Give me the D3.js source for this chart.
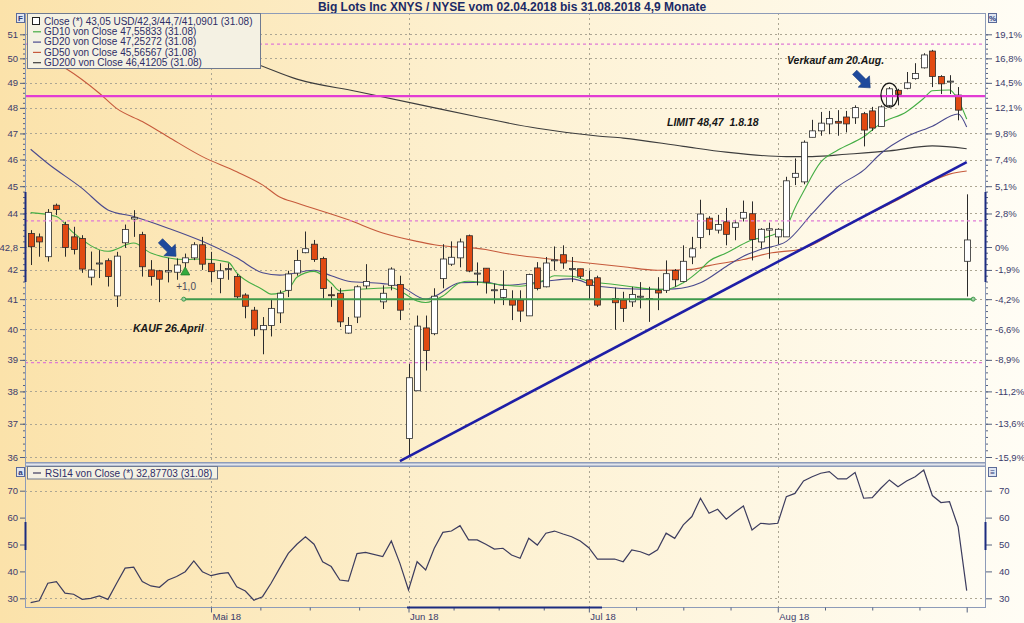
<!DOCTYPE html>
<html lang="de">
<head>
<meta charset="utf-8">
<title>Big Lots Inc XNYS / NYSE</title>
<script src="https://cdn.jsdelivr.net/npm/d3@7/dist/d3.min.js"></script>
<style>
  html, body { margin: 0; padding: 0; background: #fdf0cf; }
  svg { display: block; font-family: "Liberation Sans", Arial, sans-serif; }
</style>
</head>
<body>
<svg id="chart" width="1024" height="623"></svg>
<script>
// ---------- data (2018, daily) ----------
const tradingDays = [
  "04-02","04-03","04-04","04-05","04-06","04-09","04-10","04-11","04-12","04-13","04-16","04-17","04-18","04-19","04-20","04-23","04-24","04-25","04-26","04-27","04-30",
  "05-01","05-02","05-03","05-04","05-07","05-08","05-09","05-10","05-11","05-14","05-15","05-16","05-17","05-18","05-21","05-22","05-23","05-24","05-25","05-29","05-30","05-31",
  "06-01","06-04","06-05","06-06","06-07","06-08","06-11","06-12","06-13","06-14","06-15","06-18","06-19","06-20","06-21","06-22","06-25","06-26","06-27","06-28","06-29",
  "07-02","07-03","07-05","07-06","07-09","07-10","07-11","07-12","07-13","07-16","07-17","07-18","07-19","07-20","07-23","07-24","07-25","07-26","07-27","07-30","07-31",
  "08-01","08-02","08-03","08-06","08-07","08-08","08-09","08-10","08-13","08-14","08-15","08-16","08-17","08-20","08-21","08-22","08-23","08-24","08-27","08-28","08-29","08-30","08-31"
];
const openP = [
  43.28,43.16,42.46,44.30,43.60,43.16,43.10,41.75,42.22,42.32,41.11,42.95,43.80,43.24,42.00,41.97,41.93,41.92,42.25,42.42,42.88,
  42.23,41.71,42.02,41.77,41.14,40.63,39.98,40.12,40.54,41.30,41.89,42.60,42.90,42.40,41.15,41.20,39.87,40.40,41.45,40.91,41.47,41.50,
  36.55,38.02,40.04,39.85,41.70,42.20,42.42,43.20,41.87,42.06,41.30,41.06,40.98,40.97,40.44,42.07,41.42,42.32,42.53,42.04,42.04,
  41.66,41.73,41.02,40.97,40.91,41.08,41.00,41.30,41.30,41.98,41.60,42.45,43.14,43.83,43.40,43.70,43.50,43.83,43.99,42.98,43.40,
  43.16,43.16,45.33,45.16,46.85,47.10,47.37,47.47,47.64,47.61,47.77,47.88,47.27,48.10,48.70,48.78,49.17,49.61,50.30,49.26,49.05,48.51,42.30
];
const highP = [
  43.40,43.28,44.16,44.36,43.70,43.52,43.22,42.64,42.69,42.40,42.63,43.60,44.12,43.34,42.34,42.00,42.42,42.40,42.57,42.97,43.16,
  42.63,42.23,42.23,41.86,41.20,40.74,40.40,40.97,41.30,41.97,42.70,43.35,43.05,42.46,41.42,41.37,40.40,41.47,42.20,41.47,42.09,41.80,
  38.87,40.45,40.45,41.37,42.90,43.00,43.10,43.24,42.26,42.06,41.53,41.98,41.30,41.30,41.87,42.27,42.45,42.82,42.86,42.45,42.04,
  41.98,41.80,41.39,41.25,41.42,41.58,41.42,41.75,42.33,42.03,42.86,43.16,44.50,43.90,43.95,44.20,43.77,44.47,44.44,43.47,43.67,
  43.47,45.35,46.04,46.73,47.53,47.84,47.88,47.91,47.88,48.10,47.84,48.04,48.10,48.83,48.76,49.44,49.80,50.21,50.35,49.31,49.31,48.83,44.70
];
const lowP = [
  42.17,42.46,42.29,43.94,42.46,42.54,41.90,41.47,41.72,41.43,40.74,42.77,43.16,41.77,41.46,40.90,41.57,41.66,42.00,42.34,42.00,
  41.57,41.20,41.66,41.02,40.36,39.77,39.18,39.76,40.20,41.07,41.80,42.58,42.28,41.02,40.74,40.07,39.85,40.20,41.35,40.67,41.30,40.30,
  36.00,38.02,38.66,39.80,41.37,42.14,42.09,41.92,41.47,41.19,40.85,40.80,40.30,40.24,40.44,41.30,41.40,41.98,42.04,41.58,41.70,
  40.97,40.74,39.98,40.24,40.74,40.69,40.24,40.63,41.21,41.42,41.58,42.20,42.74,43.22,43.28,42.86,43.04,43.71,42.33,42.74,42.39,
  42.90,43.16,45.04,45.07,46.85,46.91,46.97,46.91,47.04,47.37,46.50,47.10,47.27,48.04,48.10,48.74,49.13,49.58,48.83,48.55,48.55,47.51,41.0901
];
const closeP = [
  42.81,42.98,44.04,44.14,42.78,42.71,42.03,42.00,42.24,41.77,42.48,43.42,43.86,42.11,41.77,41.68,41.98,42.17,42.42,42.88,42.20,
  41.94,41.97,42.05,41.08,40.76,40.00,40.12,40.69,41.20,41.86,42.33,42.74,42.36,41.36,41.14,40.24,40.12,41.42,41.60,41.20,42.03,40.63,
  38.43,40.10,39.30,41.10,42.38,42.44,42.98,41.96,41.89,41.58,41.32,41.33,40.80,40.60,41.84,41.36,42.24,42.35,42.24,42.05,41.78,
  41.47,40.80,40.88,40.69,41.16,41.10,41.02,41.21,41.87,41.66,42.30,42.74,43.98,43.43,43.60,43.25,43.66,44.04,43.07,43.43,43.45,
  43.43,45.20,45.48,46.66,47.10,47.40,47.58,47.40,47.37,48.01,47.13,47.21,48.04,48.76,48.54,49.00,49.38,50.14,49.26,48.96,49.07,47.91,43.05
];
const rsi14 = [
  28.4,29.1,35.6,36.2,31.9,31.5,29.6,30.0,30.9,29.6,35.5,41.2,41.6,36.2,34.6,34.1,36.8,38.1,39.9,43.9,39.9,
  38.4,39.2,39.5,34.3,32.7,29.3,30.6,35.6,41.2,46.7,50.1,52.9,50.1,43.6,41.8,36.8,36.4,46.6,47.1,45.5,51.3,43.0,
  33.1,43.6,40.5,48.6,54.5,55.0,57.0,51.7,51.7,50.1,48.3,48.6,46.1,44.9,52.3,49.8,54.2,55.0,53.9,52.9,51.3,
  48.8,44.6,44.6,43.6,48.0,47.3,46.1,48.0,54.2,52.3,57.3,60.4,67.2,61.6,63.1,59.4,62.0,64.3,55.4,57.9,57.6,
  57.9,67.8,69.0,73.6,75.2,76.5,77.1,74.4,74.4,76.8,67.2,67.4,70.9,74.0,71.5,73.6,75.2,77.7,68.2,65.6,65.9,56.6,32.87703
];

// moving averages (sampled days)
const gd10 = [
  ["04-02",44.03],["04-05",43.89],["04-09",43.30],["04-13",42.65],["04-18",42.94],["04-20",42.59],["04-26",42.36],["04-30",42.38],
  ["05-03",42.27],["05-04",41.90],["05-09",41.33],["05-10",41.17],["05-14",41.33],["05-15",41.75],["05-17",41.95],["05-21",41.55],
  ["05-22",41.28],["05-24",41.33],["05-30",41.39],["05-31",41.28],["06-04",40.94],["06-05",40.89],["06-07",41.11],["06-11",41.56],
  ["06-12",41.61],["06-14",41.55],["06-20",41.44],["06-25",41.67],["06-26",41.80],["06-28",41.78],["07-02",41.61],["07-05",41.50],
  ["07-09",41.42],["07-11",41.35],["07-13",41.33],["07-17",41.56],["07-19",42.01],["07-20",42.30],["07-24",42.59],["07-25",42.75],
  ["07-27",43.06],["07-31",43.18],["08-02",43.53],["08-03",44.20],["08-06",44.80],["08-08",45.90],["08-10",46.36],["08-15",46.87],
  ["08-17",47.39],["08-22",47.85],["08-24",48.38],["08-27",48.68],["08-29",48.71],["08-30",48.31],["08-31",47.55833]
];
const gd20 = [
  ["04-02",46.39],["04-04",45.85],["04-10",44.92],["04-13",44.13],["04-18",43.89],["04-24",43.47],["04-30",43.00],["05-04",42.42],
  ["05-09",41.90],["05-11",41.82],["05-17",41.99],["05-21",41.80],["05-23",41.61],["05-29",41.53],["05-31",41.44],["06-05",41.00],
  ["06-06",41.09],["06-11",41.56],["06-14",41.58],["06-18",41.47],["06-25",41.61],["06-28",41.69],["07-03",41.44],["07-11",41.33],
  ["07-16",41.35],["07-19",41.56],["07-24",42.12],["07-26",42.48],["07-30",42.71],["08-02",43.00],["08-07",43.99],["08-10",44.98],
  ["08-15",45.60],["08-17",46.23],["08-22",46.87],["08-27",47.28],["08-30",47.76],["08-31",47.25272]
];
const gd50 = [
  ["04-02",50.30],["04-06",49.60],["04-12",48.58],["04-16",47.98],["04-19",47.46],["04-24",46.87],["04-30",46.11],["05-04",45.54],
  ["05-09",45.05],["05-11",44.60],["05-15",44.38],["05-23",43.77],["05-29",43.30],["06-04",43.00],["06-06",42.88],["06-14",42.71],
  ["06-18",42.59],["06-20",42.50],["06-28",42.30],["07-06",42.11],["07-12",41.99],["07-18",42.02],["07-20",42.15],["07-26",42.36],
  ["07-31",42.58],["08-06",42.75],["08-13",43.56],["08-21",44.50],["08-29",45.45],["08-31",45.56567]
];
const gd200 = [
  ["04-02",52.40],["04-19",51.00],["05-08",49.80],["05-15",49.15],["05-24",48.65],["06-04",48.15],["06-13",47.65],["06-22",47.20],
  ["07-03",46.90],["07-06",46.82],["07-17",46.50],["07-24",46.28],["08-02",46.11],["08-07",46.11],["08-13",46.20],["08-20",46.33],
  ["08-27",46.52],["08-31",46.41205]
];

const priceTicks = [51, 50, 49, 48, 47, 46, 45, 44, 42.8, 42, 41, 40, 39, 38, 37, 36];
const pctLabels  = ["19,1%","16,8%","14,5%","12,1%","9,8%","7,4%","5,1%","2,8%","0%","-1,9%","-4,2%","-6,6%","-8,9%","-11,2%","-13,6%","-15,9%"];
const rsiTicks = [30, 40, 50, 60, 70];
const rsiGrid = [30, 70];
const monthStarts = ["05-01", "06-01", "07-02", "08-01"];
const monthLabels = ["Mai 18", "Jun 18", "Jul 18", "Aug 18"];
const rangeEnd = "08-31";

const limitLevel = 48.47;           // Verkaufslimit
const stopLevel = 41.0;             // Absicherung ab Kauf
const dottedLevels = [50.59, 43.73, 38.91];
const buyDay = "04-26";
const sellDay = "08-20";
const trendFrom = ["05-31", 35.88];
const trendTo = ["08-31", 45.90];

// ---------- helpers ----------
const fmt = v => String(v).replace(".", ",");
const T0 = Date.UTC(2018, 3, 2);
const slotOf = s => {
  const n = Math.round((Date.UTC(2018, +s.slice(0, 2) - 1, +s.slice(3)) - T0) / 864e5);
  return n - 2 * Math.floor(n / 7);     // weekday index since 02.04.
};

// ---------- layout ----------
const W = 1024, H = 623;
const L = 25, R = 985;
const pTop = 13, pBot = 462;
const rTop = 466, rBot = 607;

const x = d3.scaleLinear().domain([0, 109]).range([30.65, 966.7]);
const y = d3.scaleLog().domain([36, 51]).range([457, 34.3]);
const yR = d3.scaleLinear().domain([30, 70]).range([598.3, 490.7]);

const svg = d3.select("#chart");
const defs = svg.append("defs");
const grad = defs.append("linearGradient").attr("id", "bg").attr("x1", 0).attr("x2", 1).attr("y1", 0).attr("y2", 0);
grad.append("stop").attr("offset", "0%").attr("stop-color", "#fbe2aa");
grad.append("stop").attr("offset", "45%").attr("stop-color", "#fdf0cf");
grad.append("stop").attr("offset", "100%").attr("stop-color", "#fffdf5");
defs.append("clipPath").attr("id", "clipP").append("rect").attr("x", L).attr("y", pTop).attr("width", R - L).attr("height", pBot - pTop);
defs.append("clipPath").attr("id", "clipR").append("rect").attr("x", L).attr("y", rTop).attr("width", R - L).attr("height", rBot - rTop);

svg.append("rect").attr("width", W).attr("height", H).attr("fill", "url(#bg)");

// title
svg.append("text").attr("x", 512).attr("y", 10.5).attr("text-anchor", "middle")
  .attr("font-weight", "bold").attr("font-size", "12px").attr("fill", "#1b2a66")
  .text("Big Lots Inc XNYS / NYSE vom 02.04.2018 bis 31.08.2018 4,9 Monate");

// ---------- grids ----------
const gridCol = "#aca693";
const grid = svg.append("g");
grid.selectAll("line.hp").data(priceTicks).join("line")
  .attr("x1", L).attr("x2", R).attr("y1", d => Math.round(y(d)) + 0.5).attr("y2", d => Math.round(y(d)) + 0.5)
  .attr("stroke", gridCol).attr("stroke-dasharray", "2,3");
grid.selectAll("line.hr").data(rsiGrid).join("line")
  .attr("x1", L).attr("x2", R).attr("y1", d => Math.round(yR(d)) + 0.5).attr("y2", d => Math.round(yR(d)) + 0.5)
  .attr("stroke", gridCol).attr("stroke-dasharray", "2,3");
const monthSlots = monthStarts.map(slotOf);
[[pTop, pBot], [rTop, rBot]].forEach(([a, b]) => {
  grid.selectAll(null).data(monthSlots).join("line")
    .attr("x1", d => Math.round(x(d)) + 0.5).attr("x2", d => Math.round(x(d)) + 0.5)
    .attr("y1", a).attr("y2", b).attr("stroke", gridCol).attr("stroke-dasharray", "2,3");
});

// ---------- price panel ----------
const pg = svg.append("g").attr("clip-path", "url(#clipP)");
const maLine = d3.line().curve(d3.curveMonotoneX).x(d => x(slotOf(d[0]))).y(d => y(d[1]));
[[gd200, "#3d3d3d"], [gd50, "#c65a3c"], [gd20, "#4a4a8e"], [gd10, "#44ad44"]].forEach(([s, c]) => {
  pg.append("path").attr("d", maLine(s)).attr("fill", "none").attr("stroke", c).attr("stroke-width", 1.1);
});

const candles = tradingDays.map((d, i) => ({ day: d, s: slotOf(d), o: openP[i], h: highP[i], l: lowP[i], c: closeP[i] }));
const cx = d => Math.round(x(d.s)) + 0.5;
pg.selectAll("line.wick").data(candles).join("line")
  .attr("x1", cx).attr("x2", cx).attr("y1", d => y(d.h)).attr("y2", d => y(d.l))
  .attr("stroke", "#2b2b2b").attr("stroke-width", 1);
pg.selectAll("rect.body").data(candles).join("rect")
  .attr("x", d => cx(d) - 3).attr("width", 6)
  .attr("y", d => Math.min(y(d.o), y(d.c)))
  .attr("height", d => Math.max(1, Math.abs(y(d.o) - y(d.c))))
  .attr("fill", d => d.c >= d.o ? "#ffffff" : "#e14a12")
  .attr("stroke", "#2b2b2b").attr("stroke-width", 0.8);

// levels
pg.selectAll("line.dot").data(dottedLevels).join("line")
  .attr("x1", L).attr("x2", R).attr("y1", d => y(d)).attr("y2", d => y(d))
  .attr("stroke", "#e07ad6").attr("stroke-width", 1.2).attr("stroke-dasharray", "3,3");
pg.append("line").attr("x1", L).attr("x2", R).attr("y1", y(limitLevel)).attr("y2", y(limitLevel))
  .attr("stroke", "#e23cd4").attr("stroke-width", 2.2);

const buy = candles.find(d => d.day === buyDay);
const sell = candles.find(d => d.day === sellDay);
const last = candles[candles.length - 1];
const stopX0 = x(buy.s) - 1.5, stopX1 = x(last.s) + 6.5;
pg.append("line").attr("x1", stopX0).attr("x2", stopX1).attr("y1", y(stopLevel)).attr("y2", y(stopLevel))
  .attr("stroke", "#3f9a4c").attr("stroke-width", 2);
pg.selectAll("circle.stop").data([stopX0, stopX1]).join("circle")
  .attr("cx", d => d).attr("cy", y(stopLevel)).attr("r", 2).attr("fill", "#9fd0a2").attr("stroke", "#3f9a4c");

// trend line
pg.append("line")
  .attr("x1", x(slotOf(trendFrom[0]))).attr("y1", y(trendFrom[1]))
  .attr("x2", x(slotOf(trendTo[0]))).attr("y2", y(trendTo[1]))
  .attr("stroke", "#1e1ea6").attr("stroke-width", 2.6);

// buy marker
const bx = x(buy.s), by = y(buy.l);
pg.append("path").attr("d", `M${bx},${by - 3} L${bx + 4.5},${by + 5} L${bx - 4.5},${by + 5} Z`)
  .attr("fill", "#33aa3d").attr("stroke", "#1d7a2a").attr("stroke-width", 0.8);
svg.append("text").attr("x", bx - 9).attr("y", by + 20).attr("font-size", "10px").attr("fill", "#4a4a5a").text("+1,0");

// arrows
const arrowPath = "M-11,-3 L2,-3 L2,-8 L11,0 L2,8 L2,3 L-11,3 Z";
const arrow = (ax, ay) => svg.append("path").attr("d", arrowPath)
  .attr("transform", `translate(${ax},${ay}) rotate(45)`).attr("fill", "#1f4a9c").attr("stroke", "#163a80").attr("stroke-width", 0.6);
arrow(bx - 17, y(buy.h) - 5);
arrow(x(sell.s) - 27, y(sell.h) - 7);

// circle around the sell candle
svg.append("ellipse").attr("cx", x(sell.s)).attr("cy", (y(sell.o) + y(sell.c)) / 2 - 2)
  .attr("rx", 8.5).attr("ry", 12).attr("fill", "none").attr("stroke", "#111").attr("stroke-width", 1.2);

// notes
const note = (tx, ty, t) => svg.append("text").attr("x", tx).attr("y", ty)
  .attr("font-size", "10.5px").attr("font-weight", "bold").attr("font-style", "italic")
  .attr("fill", "#161616").style("white-space", "pre").text(t);
note(787, 64, "Verkauf am 20.Aug.");
note(667, 126, `LIMIT ${fmt(limitLevel)}  1.8.18`);
note(133, 332, "KAUF 26.April");

// ---------- RSI panel ----------
const rg = svg.append("g").attr("clip-path", "url(#clipR)");
const rsiLine = d3.line().x((d, i) => x(candles[i].s)).y(d => yR(d));
rg.append("path").attr("d", rsiLine(rsi14)).attr("fill", "none").attr("stroke", "#3c3c5e").attr("stroke-width", 1.2);

// ---------- frames ----------
const frameCol = "#8d9bb8";
svg.append("rect").attr("x", L + 0.5).attr("y", pTop + 0.5).attr("width", R - L).attr("height", pBot - pTop)
  .attr("fill", "none").attr("stroke", frameCol);
svg.append("rect").attr("x", L + 0.5).attr("y", pBot + 1).attr("width", R - L).attr("height", rTop - pBot - 1)
  .attr("fill", "#e2e5ec").attr("stroke", frameCol);
svg.append("rect").attr("x", L + 0.5).attr("y", rTop + 0.5).attr("width", R - L).attr("height", rBot - rTop)
  .attr("fill", "none").attr("stroke", frameCol);

// ---------- axes ----------
const styleAxis = (g, size) => {
  g.select(".domain").remove();
  g.selectAll(".tick line").attr("stroke", "#56627f");
  g.selectAll(".tick text").attr("fill", "#3b3b6b").attr("font-size", size || "9.5px")
    .attr("font-family", "'Liberation Sans', Arial, sans-serif");
};
const minorPrice = d3.range(36, 51.01, 0.2);
svg.append("g").attr("transform", `translate(${L},0)`)
  .call(d3.axisLeft(y).tickValues(minorPrice).tickSize(2).tickFormat("")).call(styleAxis);
svg.append("g").attr("transform", `translate(${L},0)`)
  .call(d3.axisLeft(y).tickValues(priceTicks).tickFormat(fmt).tickSize(5).tickPadding(2)).call(styleAxis);
svg.append("g").attr("transform", `translate(${R + 1},0)`)
  .call(d3.axisRight(y).tickValues(minorPrice).tickSize(2).tickFormat("")).call(styleAxis);
svg.append("g").attr("transform", `translate(${R + 1},0)`)
  .call(d3.axisRight(y).tickValues(priceTicks).tickFormat((d, i) => pctLabels[i]).tickSize(6).tickPadding(3)).call(styleAxis);

svg.append("g").attr("transform", `translate(${L},0)`)
  .call(d3.axisLeft(yR).tickValues(rsiTicks).tickSize(5).tickPadding(2)).call(styleAxis);
svg.append("g").attr("transform", `translate(${R + 1},0)`)
  .call(d3.axisRight(yR).tickValues(rsiTicks).tickSize(6).tickPadding(7)).call(styleAxis);

const majorX = monthSlots.concat([slotOf(rangeEnd)]);
const minorX = [];
for (let i = 0; i < majorX.length - 1; i++) {
  for (let k = 1; k < 4; k++) minorX.push(majorX[i] + (majorX[i + 1] - majorX[i]) * k / 4);
}
svg.append("g").attr("transform", `translate(0,${rBot + 0.5})`)
  .call(d3.axisBottom(x).tickValues(minorX).tickSize(3).tickFormat("")).call(styleAxis);
const xAx = svg.append("g").attr("transform", `translate(0,${rBot + 0.5})`)
  .call(d3.axisBottom(x).tickValues(majorX).tickSize(5).tickPadding(1)
    .tickFormat((d, i) => monthLabels[i] || "")).call(g => styleAxis(g, "9.5px"));
xAx.selectAll(".tick text").attr("text-anchor", "start").attr("dx", 1);

// range markers on the axes
const mark = "#1c2c80";
[[L + 0.5, 192, 282], [R + 0.5, 192, 282], [L + 0.5, 522, 550], [R + 0.5, 522, 550]].forEach(([mx, a, b]) => {
  svg.append("line").attr("x1", mx).attr("x2", mx).attr("y1", a).attr("y2", b).attr("stroke", mark).attr("stroke-width", 2);
});
svg.append("line").attr("x1", 407).attr("x2", 602).attr("y1", rBot + 0.5).attr("y2", rBot + 0.5).attr("stroke", mark).attr("stroke-width", 2);

// ---------- legends ----------
const lg = svg.append("g");
lg.append("rect").attr("x", 27.5).attr("y", 13.5).attr("width", 233).attr("height", 55)
  .attr("fill", "#f4f1e3").attr("stroke", "#6f7a90");
const lgRows = [
  { kind: "box", c: "#222", t: `Close (*) ${fmt(last.c)} USD/${fmt(last.o)}/${fmt(last.h)}/${fmt(last.l)} (31.08)` },
  { kind: "line", c: "#44ad44", t: `GD10 von Close ${fmt(gd10[gd10.length - 1][1])} (31.08)` },
  { kind: "line", c: "#4a4a8e", t: `GD20 von Close ${fmt(gd20[gd20.length - 1][1])} (31.08)` },
  { kind: "line", c: "#c65a3c", t: `GD50 von Close ${fmt(gd50[gd50.length - 1][1])} (31.08)` },
  { kind: "line", c: "#3d3d3d", t: `GD200 von Close ${fmt(gd200[gd200.length - 1][1])} (31.08)` }
];
lgRows.forEach((r, i) => {
  const cy = 21 + i * 10.3;
  if (r.kind === "box") {
    lg.append("rect").attr("x", 32.5).attr("y", cy - 3.5).attr("width", 7).attr("height", 7).attr("fill", "#fff").attr("stroke", r.c);
  } else {
    lg.append("line").attr("x1", 33).attr("x2", 41).attr("y1", cy + 0.5).attr("y2", cy + 0.5).attr("stroke", r.c).attr("stroke-width", 1.2);
  }
  lg.append("text").attr("x", 44).attr("y", cy + 3.6).attr("font-size", "10px").attr("fill", "#2d2d66").text(r.t);
});
lg.append("rect").attr("x", 27.5).attr("y", 466.5).attr("width", 190).attr("height", 12.5)
  .attr("fill", "#f4f1e3").attr("stroke", "#6f7a90");
lg.append("line").attr("x1", 33).attr("x2", 41).attr("y1", 473).attr("y2", 473).attr("stroke", "#3c3c5e").attr("stroke-width", 1.2);
lg.append("text").attr("x", 45).attr("y", 476.5).attr("font-size", "10px").attr("fill", "#2d2d66")
  .text(`RSI14 von Close (*) ${fmt(rsi14[rsi14.length - 1])} (31.08)`);

// panel buttons
const btn = (bx0, by0, t) => {
  svg.append("rect").attr("x", bx0 + 0.5).attr("y", by0 + 0.5).attr("width", 8).attr("height", 9)
    .attr("fill", "#dfe5f1").attr("stroke", "#5b6a98");
  svg.append("text").attr("x", bx0 + 4.5).attr("y", by0 + 8).attr("text-anchor", "middle")
    .attr("font-size", "8px").attr("font-weight", "bold").attr("fill", "#2b3a78").text(t);
};
btn(16, 13, "F");
btn(988, 13, "%");
btn(16, 467, "a");
btn(988, 467, "≡");
</script>
</body>
</html>
